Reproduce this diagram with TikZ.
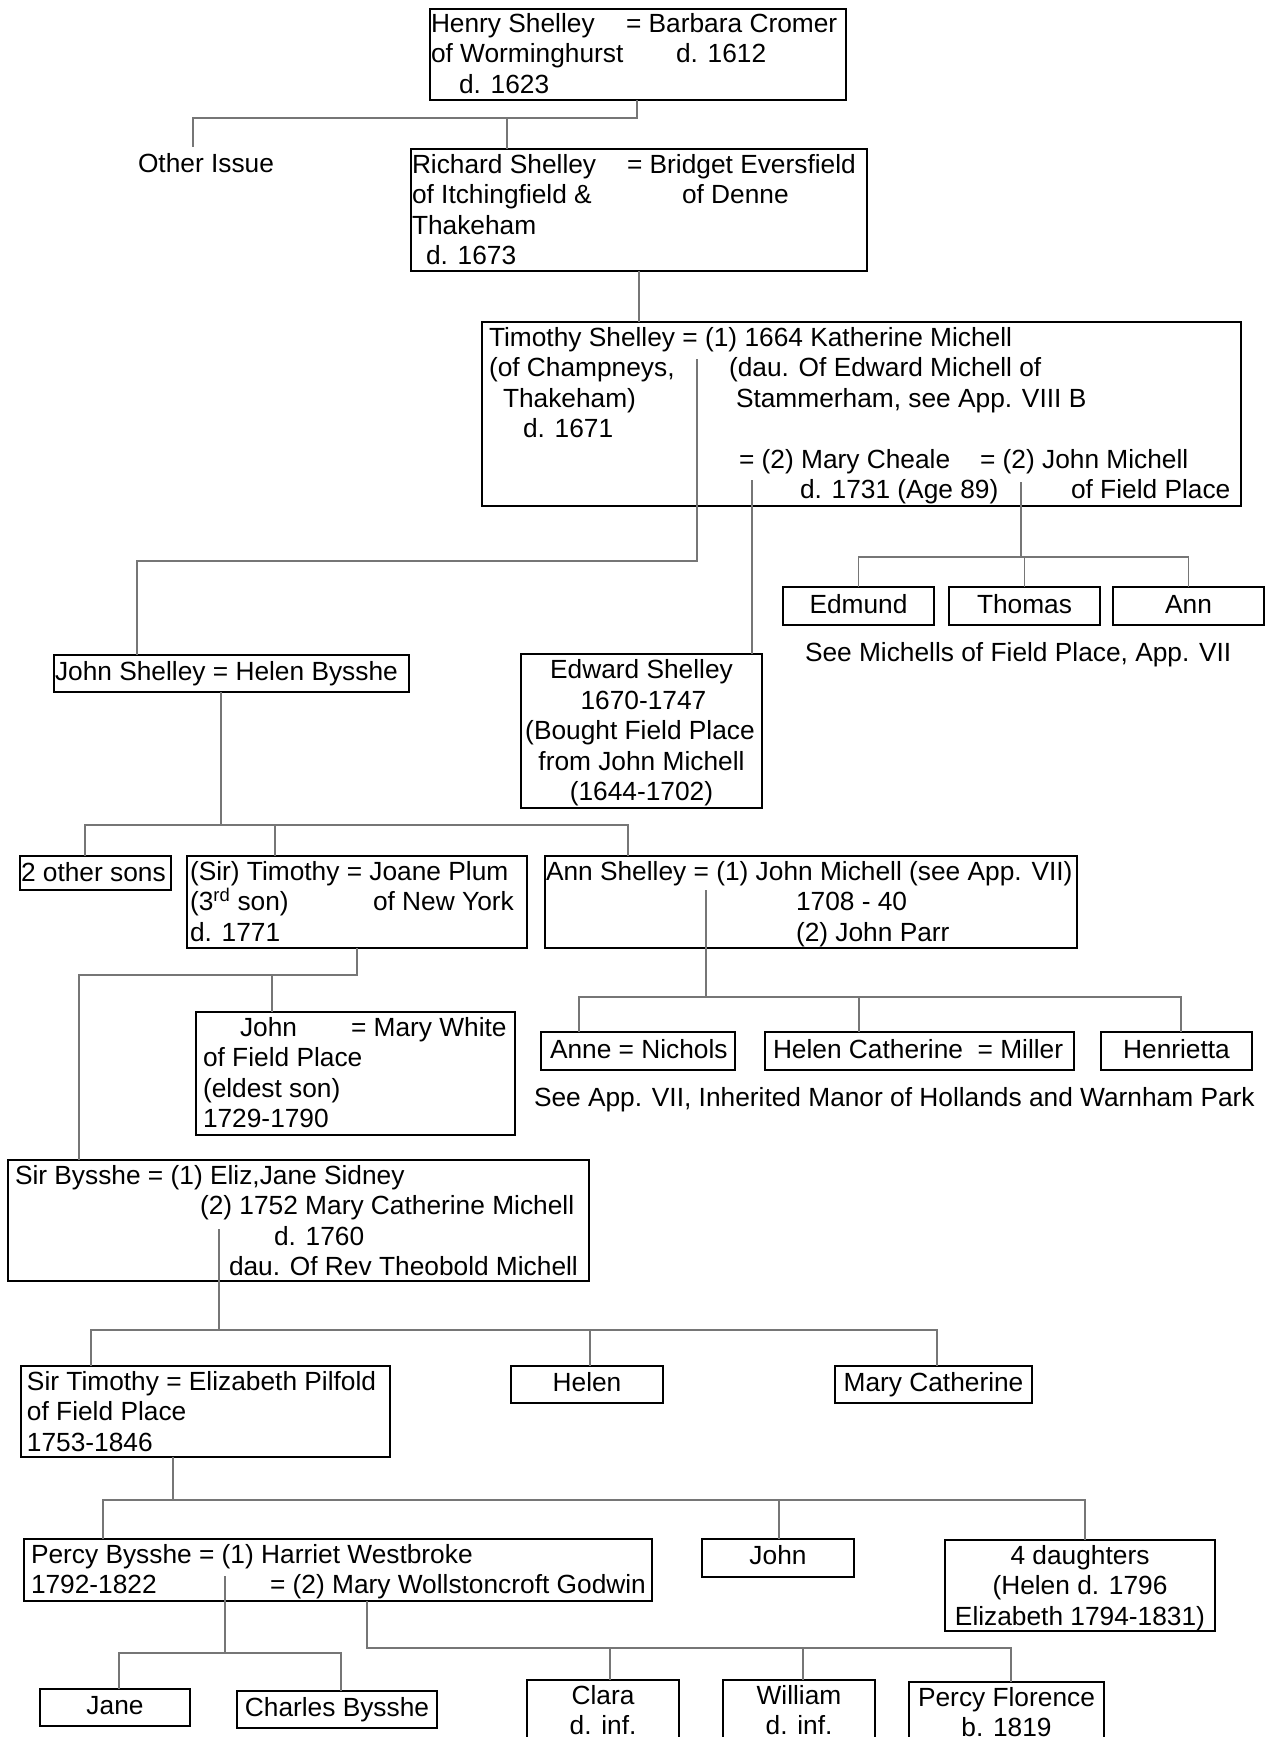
\documentclass[tikz,border=0pt]{standalone}
\usepackage{fontspec}
\setmainfont{Liberation Sans}
\definecolor{linkgray}{RGB}{118,118,118}
\begin{document}
\begin{tikzpicture}[x=1pt,y=-1pt,
  every node/.style={font=\fontsize{26.3}{30.5}\selectfont, inner sep=0pt, outer sep=0pt},
  fambox/.style={draw=black, line width=1.6pt, anchor=north west},
  lbl/.style={anchor=base west},
  clbl/.style={anchor=base},
  link/.style={draw=linkgray, line width=1.4pt}]
\clip (0,0) rectangle (1273,1737);
\fill[white] (0,0) rectangle (1273,1737);

% ---------- Henry Shelley ----------
\node[fambox, minimum width=416pt, minimum height=91pt] (henry) at (430,9) {};
\node[lbl] (henry-a) at (431,33) {Henry Shelley};
\node[lbl] (henry-b) at (626,33) {= Barbara Cromer};
\node[lbl] (henry-c) at (431,63) {of Worminghurst};
\node[lbl] (henry-d) at (676,63) {d. 1612};
\node[lbl] (henry-e) at (459,93) {d. 1623};

\node[lbl] (other) at (138,172) {Other Issue};
\coordinate (otherTop) at (193,147);

% ---------- Richard Shelley ----------
\node[fambox, minimum width=456pt, minimum height=122pt] (richard) at (411,149) {};
\node[lbl] (rich-a) at (412,173) {Richard Shelley};
\node[lbl] (rich-b) at (627,173) {= Bridget Eversfield};
\node[lbl] (rich-c) at (412,203.5) {of Itchingfield \&};
\node[lbl] (rich-d) at (682,203.5) {of Denne};
\node[lbl] (rich-e) at (412,234) {Thakeham};
\node[lbl] (rich-f) at (426,264) {d. 1673};

% ---------- Timothy Shelley ----------
\node[fambox, minimum width=759pt, minimum height=184pt] (timothy) at (482,322) {};
\node[lbl] (tim-a) at (489,346) {Timothy Shelley = (1) 1664 Katherine Michell};
\node[lbl] (tim-b) at (489,376.5) {(of Champneys,};
\node[lbl] (tim-c) at (729,376.5) {(dau. Of Edward Michell of};
\node[lbl] (tim-d) at (503,407) {Thakeham)};
\node[lbl] (tim-e) at (736,407) {Stammerham, see App. VIII B};
\node[lbl] (tim-f) at (523,437.5) {d. 1671};
\node[lbl] (tim-g) at (739,468) {= (2) Mary Cheale};
\node[lbl] (tim-h) at (980,468) {= (2) John Michell};
\node[lbl] (tim-i) at (800,498.5) {d. 1731 (Age 89)};
\node[lbl] (tim-j) at (1071,498.5) {of Field Place};

% ---------- Michell children ----------
\node[fambox, minimum width=151pt, minimum height=38pt] (edmund) at (783,587) {};
\node[clbl] (edmund-t) at (edmund.center |- 0,613) {Edmund};
\node[fambox, minimum width=151pt, minimum height=38pt] (thomas) at (949,587) {};
\node[clbl] (thomas-t) at (thomas.center |- 0,613) {Thomas};
\node[fambox, minimum width=151pt, minimum height=38pt] (annM) at (1113,587) {};
\node[clbl] (annM-t) at (annM.center |- 0,613) {Ann};
\node[lbl] (seeM) at (805,661) {See Michells of Field Place, App. VII};

% ---------- John Shelley and Edward Shelley ----------
\node[fambox, minimum width=355pt, minimum height=37pt] (johnS) at (54,655) {};
\node[lbl] (johnS-t) at (55,680) {John Shelley = Helen Bysshe};

\node[fambox, minimum width=241pt, minimum height=154pt] (edward) at (521,654) {};
\node[clbl] (ed-a) at (641.5,678.5) {Edward Shelley};
\node[clbl] (ed-b) at (643.5,709) {1670-1747};
\node[clbl] (ed-c) at (640,739.5) {(Bought Field Place};
\node[clbl] (ed-d) at (641.5,770) {from John Michell};
\node[clbl] (ed-e) at (641.5,800.5) {(1644-1702)};

% ---------- children of John Shelley ----------
\node[fambox, minimum width=151pt, minimum height=34pt] (othersons) at (20,856) {};
\node[lbl] (othersons-t) at (21,881) {2 other sons};

\node[fambox, minimum width=340pt, minimum height=92pt] (sirtim) at (187,856) {};
\node[lbl] (st-a) at (190,880) {(Sir) Timothy = Joane Plum};
\node[lbl] (st-b) at (190,910.5) {(3\textsuperscript{rd} son)};
\node[lbl] (st-c) at (373,910.5) {of New York};
\node[lbl] (st-d) at (190,941) {d. 1771};

\node[fambox, minimum width=532pt, minimum height=92pt] (annS) at (545,856) {};
\node[lbl] (as-a) at (546,880) {Ann Shelley = (1) John Michell (see App. VII)};
\node[lbl] (as-b) at (796,910.5) {1708 - 40};
\node[lbl] (as-c) at (796,941) {(2) John Parr};

% ---------- John of Field Place ----------
\node[fambox, minimum width=319pt, minimum height=123pt] (johnF) at (196,1012) {};
\node[lbl] (jf-a) at (240,1036) {John};
\node[lbl] (jf-b) at (351,1036) {= Mary White};
\node[lbl] (jf-c) at (203,1066.5) {of Field Place};
\node[lbl] (jf-d) at (203,1097) {(eldest son)};
\node[lbl] (jf-e) at (203,1127.5) {1729-1790};

% ---------- children of Ann Shelley ----------
\node[fambox, minimum width=194pt, minimum height=38pt] (anne) at (541,1032) {};
\node[lbl] (anne-t) at (550,1058) {Anne = Nichols};
\node[fambox, minimum width=309pt, minimum height=38pt] (helenC) at (765,1032) {};
\node[lbl] (helenC-t) at (773,1058) {Helen Catherine\ \ = Miller};
\node[fambox, minimum width=151pt, minimum height=38pt] (henrietta) at (1101,1032) {};
\node[clbl] (henrietta-t) at (henrietta.center |- 0,1058) {Henrietta};
\node[lbl] (seeA) at (534,1106) {See App. VII, Inherited Manor of Hollands and Warnham Park};

% ---------- Sir Bysshe ----------
\node[fambox, minimum width=581pt, minimum height=121pt] (bysshe) at (8,1160) {};
\node[lbl] (by-a) at (15,1184) {Sir Bysshe = (1) Eliz,Jane Sidney};
\node[lbl] (by-b) at (200,1214.5) {(2) 1752 Mary Catherine Michell};
\node[lbl] (by-c) at (274,1245) {d. 1760};
\node[lbl] (by-d) at (229,1275.5) {dau. Of Rev Theobold Michell};

% ---------- children of Sir Bysshe ----------
\node[fambox, minimum width=369pt, minimum height=91pt] (pilfold) at (21,1366) {};
\node[lbl] (pf-a) at (27,1390) {Sir Timothy = Elizabeth Pilfold};
\node[lbl] (pf-b) at (27,1420.5) {of Field Place};
\node[lbl] (pf-c) at (27,1451) {1753-1846};
\node[fambox, minimum width=152pt, minimum height=37pt] (helen) at (511,1366) {};
\node[clbl] (helen-t) at (helen.center |- 0,1391) {Helen};
\node[fambox, minimum width=197pt, minimum height=37pt] (maryC) at (835,1366) {};
\node[clbl] (maryC-t) at (maryC.center |- 0,1391) {Mary Catherine};

% ---------- children of Sir Timothy ----------
\node[fambox, minimum width=628pt, minimum height=62pt] (percy) at (24,1539) {};
\node[lbl] (pc-a) at (31,1563) {Percy Bysshe = (1) Harriet Westbroke};
\node[lbl] (pc-b) at (31,1593.5) {1792-1822};
\node[lbl] (pc-c) at (270,1593.5) {= (2) Mary Wollstoncroft Godwin};
\node[fambox, minimum width=152pt, minimum height=38pt] (johnP) at (702,1539) {};
\node[clbl] (johnP-t) at (johnP.center |- 0,1564) {John};
\node[fambox, minimum width=270pt, minimum height=91pt] (daughters) at (945,1540) {};
\node[clbl] (dg-a) at (1080,1564) {4 daughters};
\node[clbl] (dg-b) at (1080,1594.5) {(Helen d. 1796};
\node[clbl] (dg-c) at (1080,1625) {Elizabeth 1794-1831)};

% ---------- children of Percy Bysshe ----------
\node[fambox, minimum width=150pt, minimum height=37pt] (jane) at (40,1689) {};
\node[clbl] (jane-t) at (jane.center |- 0,1714) {Jane};
\node[fambox, minimum width=200pt, minimum height=37pt] (charles) at (237,1691) {};
\node[clbl] (charles-t) at (charles.center |- 0,1716) {Charles Bysshe};
\node[fambox, minimum width=152pt, minimum height=100pt] (clara) at (527,1680) {};
\node[clbl] (clara-a) at (clara.center |- 0,1704) {Clara};
\node[clbl] (clara-b) at (clara.center |- 0,1734.5) {d. inf.};
\node[fambox, minimum width=152pt, minimum height=100pt] (william) at (723,1680) {};
\node[clbl] (william-a) at (william.center |- 0,1704) {William};
\node[clbl] (william-b) at (william.center |- 0,1734.5) {d. inf.};
\node[fambox, minimum width=195pt, minimum height=98pt] (florence) at (909,1682) {};
\node[clbl] (florence-a) at (florence.center |- 0,1706) {Percy Florence};
\node[clbl] (florence-b) at (florence.center |- 0,1736.5) {b. 1819};

% ---------- connectors ----------
\coordinate (hBar) at (637,118);
\draw[link] (henry.south -| hBar) -- (hBar) -| (otherTop);
\draw[link] (hBar -| 507,0) -- (richard.north -| 507,0);

\draw[link] (richard.south) -- (richard.south |- timothy.north);

\coordinate (tL1) at (697,359);
\coordinate (jsBar) at (697,561);
\draw[link] (tL1) -- (jsBar) -| (johnS.north -| 137,0);
\coordinate (tL2) at (752,480);
\draw[link] (tL2) -- (edward.north -| tL2);
\coordinate (tL3) at (1021,482);
\coordinate (mBar) at (1021,557);
\draw[link] (tL3) -- (mBar);
\draw[link] (edmund.north) -- (edmund.north |- mBar) -- (annM.north |- mBar) -- (annM.north);
\draw[link] (thomas.north |- mBar) -- (thomas.north);

\coordinate (jsDrop) at (221,825);
\draw[link] (johnS.south -| jsDrop) -- (jsDrop);
\draw[link] (othersons.north -| 85,0) |- (jsDrop) -- (jsDrop -| 628,0) -- (annS.north -| 628,0);
\draw[link] (jsDrop -| 275,0) -- (sirtim.north -| 275,0);

\coordinate (stBar) at (357,975);
\draw[link] (sirtim.south -| stBar) -- (stBar) -| (bysshe.north -| 79,0);
\draw[link] (stBar -| 272,0) -- (johnF.north -| 272,0);

\coordinate (aL) at (706,890);
\coordinate (aBar) at (706,997);
\draw[link] (aL) -- (aBar);
\draw[link] (anne.north -| 579,0) |- (aBar) -- (aBar -| 1181,0) -- (henrietta.north -| 1181,0);
\draw[link] (aBar -| 859,0) -- (helenC.north -| 859,0);

\coordinate (bL) at (219,1229);
\coordinate (bBar) at (219,1330);
\draw[link] (bL) -- (bBar);
\draw[link] (pilfold.north -| 91,0) |- (bBar) -- (bBar -| 937,0) -- (maryC.north -| 937,0);
\draw[link] (bBar -| 590,0) -- (helen.north -| 590,0);

\coordinate (pBar) at (173,1500);
\draw[link] (pilfold.south -| pBar) -- (pBar);
\draw[link] (percy.north -| 103,0) |- (pBar) -- (pBar -| 1085,0) -- (daughters.north -| 1085,0);
\draw[link] (pBar -| 779,0) -- (johnP.north -| 779,0);

\coordinate (pcL) at (225,1576);
\coordinate (pcBar) at (225,1653);
\draw[link] (pcL) -- (pcBar);
\draw[link] (jane.north -| 119,0) |- (pcBar) -- (pcBar -| 341,0) -- (charles.north -| 341,0);

\coordinate (pmBar) at (367,1648);
\draw[link] (percy.south -| pmBar) -- (pmBar) -- (pmBar -| 1011,0) -- (florence.north -| 1011,0);
\draw[link] (pmBar -| 610,0) -- (clara.north -| 610,0);
\draw[link] (pmBar -| 803,0) -- (william.north -| 803,0);
\end{tikzpicture}
\end{document}
